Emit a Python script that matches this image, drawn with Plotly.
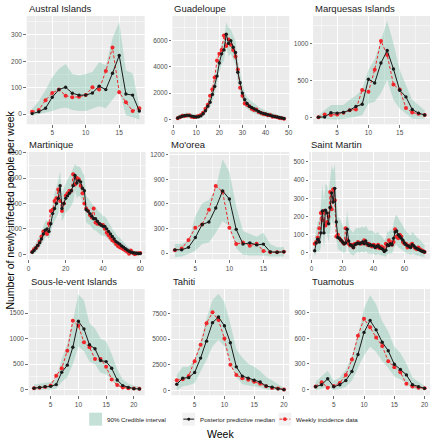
import plotly.graph_objects as go

# ---------------- data ----------------
austral_weeks = list(range(2, 19))
austral_median = [2, 9, 22, 64, 93, 102, 79, 72, 72, 80, 106, 93, 155, 222, 76, 72, 12]
austral_data = [9, 16, 53, 80, 93, 70, 64, 66, 72, 102, 93, 163, 252, 83, 45, 12, 22]
austral_hi = [20, 50, 90, 140, 172, 190, 152, 146, 152, 160, 197, 185, 287, 350, 165, 155, 30]
austral_lo = [-6, 0, 6, 12, 20, 25, 16, 12, 12, 20, 30, 22, 55, 88, -5, -12, -20]

guadeloupe_weeks = list(range(2, 49))
guadeloupe_median = [100, 180, 230, 280, 300, 280, 240, 190, 170, 190, 260, 420, 650, 1000, 1300, 1900,
                     2500, 3300, 4300, 5000, 5300, 6500, 5800, 6000, 5500, 5100, 3600, 2800, 2000, 1500,
                     1200, 1000, 900, 800, 700, 600, 500, 450, 400, 350, 300, 250, 200, 170, 130, 100, 60]
guadeloupe_data = [80, 150, 260, 250, 280, 300, 200, 160, 200, 250, 330, 500, 800, 1100, 1800, 2300,
                   3200, 4500, 5000, 5300, 6400, 5600, 6100, 5700, 5300, 4800, 3800, 2400, 1800, 1200,
                   1100, 1000, 800, 700, 750, 550, 500, 400, 380, 300, 320, 200, 220, 150, 100, 80, 40]
guadeloupe_hi = [300, 380, 450, 500, 520, 500, 450, 400, 380, 400, 500, 700, 1000, 1400, 1800, 2400,
                 3100, 4000, 5000, 5800, 6200, 7400, 7000, 6900, 6400, 6000, 4500, 3600, 2700, 2100,
                 1700, 1500, 1350, 1200, 1050, 950, 850, 750, 680, 600, 540, 480, 420, 380, 320, 280, 220]
guadeloupe_lo = [0, 20, 60, 90, 100, 90, 60, 30, 20, 30, 80, 200, 400, 700, 900, 1400,
                 1900, 2600, 3500, 4200, 4500, 5500, 4800, 5000, 4600, 4200, 2800, 2100, 1400, 1000,
                 800, 650, 550, 450, 400, 300, 250, 200, 170, 130, 100, 70, 40, 20, 0, -10, -30]

marquesas_weeks = list(range(2, 20))
marquesas_median = [5, 8, 65, 60, 70, 100, 150, 180, 520, 470, 740, 910, 660, 370, 280, 110, 60, 35]
marquesas_data = [5, 40, 35, 40, 65, 100, 110, 375, 350, 650, 1040, 850, 450, 380, 130, 70, 50, 35]
marquesas_hi = [30, 100, 170, 170, 170, 240, 300, 380, 650, 790, 1060, 1310, 1010, 650, 440, 240, 170, 100]
marquesas_lo = [-15, -20, -25, -25, -20, -10, 10, 30, 190, 215, 330, 510, 240, 120, 55, -15, -15, -15]

martinique_weeks = list(range(2, 61))
martinique_median = [80, 150, 250, 350, 450, 600, 800, 950, 1000, 900,
                     1200, 1600, 1800, 2000, 2200, 2700, 1800, 2000, 2200, 2300,
                     2400, 2500, 2700, 3100, 2800, 2900, 2850, 2600, 2500, 1750,
                     1700, 1600, 1500, 1400, 1400, 1300, 1200, 1150, 1100, 1100,
                     1000, 900, 800, 700, 600, 500, 450, 400, 330, 280,
                     220, 170, 120, 80, 60, 50, 40, 30, 30]
martinique_data = [100, 200, 250, 350, 500, 700, 900, 850, 800, 1200,
                   1700, 1750, 2100, 2200, 2550, 2100, 1700, 2000, 2300, 2400,
                   2500, 2500, 3150, 2750, 3000, 2950, 2700, 2400, 2000, 1800,
                   1700, 1550, 1450, 1800, 1250, 1200, 1200, 1150, 1150, 1000,
                   850, 750, 650, 550, 500, 400, 330, 280, 250, 200,
                   150, 100, 20, 150, 60, 0, 30, 40, 50]
martinique_hi = [250, 350, 450, 600, 700, 900, 1150, 1300, 1350, 1250,
                 1600, 2100, 2400, 2650, 2900, 3300, 2400, 2600, 2800, 2950,
                 3050, 3200, 3400, 3550, 3450, 3450, 3400, 3200, 3100, 2300,
                 2200, 2100, 2000, 1900, 1850, 1750, 1650, 1600, 1500, 1500,
                 1400, 1250, 1150, 1000, 900, 800, 700, 650, 550, 480,
                 400, 330, 260, 200, 170, 150, 130, 110, 100]
martinique_lo = [-50, 20, 80, 150, 250, 350, 500, 650, 700, 600,
                 850, 1150, 1300, 1450, 1600, 2100, 1300, 1450, 1650, 1700,
                 1800, 1900, 2050, 2500, 2200, 2300, 2250, 2000, 1900, 1250,
                 1200, 1150, 1050, 950, 950, 880, 800, 750, 720, 720,
                 650, 570, 480, 420, 340, 270, 230, 190, 140, 100,
                 60, 30, 0, -30, -40, -50, -60, -60, -60]

moorea_weeks = list(range(2, 19))
moorea_median = [40, 40, 70, 190, 350, 380, 550, 760, 660, 290, 110, 125, 100, 110, 15, 10, 15]
moorea_data = [35, 55, 160, 310, 350, 530, 820, 750, 310, 110, 130, 90, 115, 25, 10, 10, 15]
moorea_hi = [110, 115, 150, 450, 610, 650, 790, 1145, 990, 570, 270, 230, 200, 250, 110, 70, 75]
moorea_lo = [-50, -40, -10, 30, 110, 130, 250, 390, 330, 60, -20, -30, -30, -30, -40, -40, -40]

stmartin_weeks = list(range(2, 74))
stmartin_median = [12, 55, 75, 60, 110, 230, 110, 235, 220, 160,
                   250, 330, 280, 355, 170, 85, 80, 70, 60, 50,
                   55, 130, 65, 45, 40, 30, 45, 50, 55, 50,
                   55, 60, 50, 65, 50, 40, 45, 40, 40, 30,
                   35, 40, 30, 25, 20, 8, 15, 45, 40, 50,
                   45, 80, 115, 120, 100, 90, 80, 70, 55, 45,
                   40, 35, 30, 45, 40, 30, 25, 20, 15, 10,
                   8, 5]
stmartin_data = [50, 60, 85, 135, 220, 180, 230, 150, 170, 200,
                 335, 240, 350, 290, 90, 100, 80, 70, 60, 50,
                 135, 70, 50, 40, 45, 30, 50, 50, 60, 55,
                 50, 55, 70, 55, 45, 50, 40, 35, 45, 40,
                 30, 45, 25, 35, 30, 15, 50, 40, 70, 60,
                 45, 60, 130, 90, 80, 100, 90, 60, 50, 50,
                 30, 40, 40, 50, 35, 25, 20, 30, 20, 15,
                 10, 5]
stmartin_hi = [80, 130, 170, 180, 260, 380, 280, 380, 370, 330,
               420, 480, 450, 490, 320, 200, 190, 170, 150, 140,
               150, 230, 160, 130, 120, 110, 130, 135, 140, 135,
               140, 145, 135, 150, 135, 120, 125, 120, 120, 105,
               110, 115, 100, 95, 85, 70, 80, 120, 115, 130,
               125, 160, 200, 210, 190, 175, 165, 150, 130, 120,
               110, 105, 95, 115, 110, 95, 85, 80, 70, 60,
               55, 45]
stmartin_lo = [-20, 0, 10, 5, 30, 110, 30, 110, 100, 60,
               120, 190, 150, 210, 70, 20, 15, 10, 5, 0,
               5, 50, 10, -5, -10, -15, -5, 0, 5, 0,
               5, 5, 0, 10, 0, -5, -5, -5, -5, -10,
               -10, -5, -10, -15, -15, -20, -20, -5, -5, 0,
               -5, 20, 40, 45, 30, 25, 20, 15, 5, 0,
               -5, -5, -10, -5, -5, -10, -15, -15, -20, -20,
               -20, -25]

sous_weeks = list(range(2, 22))
sous_median = [30, 45, 60, 65, 100, 340, 480, 830, 1340, 1190, 880, 800, 570, 550, 420, 190, 80, 45, 20, 15]
sous_data = [30, 40, 55, 80, 275, 420, 760, 1350, 1250, 930, 830, 600, 600, 450, 200, 90, 45, 30, 25, 20]
sous_hi = [100, 120, 140, 150, 220, 600, 900, 1350, 1870, 1750, 1300, 1200, 1000, 950, 700, 400, 200, 120, 80, 60]
sous_lo = [-10, -5, 0, 0, 20, 150, 250, 500, 850, 750, 550, 500, 330, 300, 200, 80, 20, 0, -5, -10]

tahiti_weeks = list(range(2, 21))
tahiti_median = [600, 1200, 1250, 1750, 3150, 4800, 6600, 7150, 6300, 4650, 2300, 1400, 1200, 1000, 820, 430, 330, 160, 80]
tahiti_data = [1000, 1100, 1400, 2850, 4450, 6550, 7600, 6850, 5050, 2500, 1500, 1200, 1050, 850, 650, 400, 250, 200, 100]
tahiti_hi = [1500, 2300, 2300, 3000, 4800, 7000, 8800, 9400, 8600, 6500, 4000, 3200, 2600, 2300, 1900, 1300, 1000, 600, 300]
tahiti_lo = [0, 400, 500, 700, 1800, 3000, 4300, 4900, 4300, 2900, 1300, 600, 500, 400, 300, 100, 50, 0, 0]

tuamotus_weeks = list(range(2, 21))
tuamotus_median = [30, 55, 125, 30, 55, 105, 210, 410, 670, 810, 700, 555, 455, 295, 235, 170, 55, 30, 12]
tuamotus_data = [35, 85, 20, 40, 75, 170, 350, 630, 830, 730, 610, 510, 330, 260, 200, 65, 35, 20, 12]
tuamotus_hi = [90, 150, 220, 100, 140, 230, 400, 640, 950, 1110, 1000, 800, 680, 500, 430, 300, 140, 90, 40]
tuamotus_lo = [-10, 0, 40, -10, 0, 30, 100, 250, 400, 500, 440, 330, 250, 150, 120, 70, 0, -5, -10]

# tick labels
xt_short = [5, 10, 15]
xt_short20 = [5, 10, 15, 20]
xt_long = [0, 20, 40, 60]
xt_guad = [0, 10, 20, 30, 40, 50]

legend_labels = ["90% Credible interval", "Posterior predictive median", "Weekly incidence data"]

# ---------------- layout configuration ----------------
W, H = 436, 440
FONT = "Liberation Sans, Arial, sans-serif"
BAND = "rgba(102,189,160,0.32)"
RED = "#F0262A"
BLACK = "#1A1A1A"
TICKFONT = dict(family=FONT, size=6.5, color="#4D4D4D")

panels = [
    ("Austral Islands", austral_weeks, austral_median, austral_data, austral_lo, austral_hi,
     (26, 145, 13, 122), [1.2, 18.8], [-38, 372], xt_short, [2.5, 7.5, 12.5, 17.5], [0, 100, 200, 300], [50, 150, 250, 350]),
    ("Guadeloupe", guadeloupe_weeks, guadeloupe_median, guadeloupe_data, guadeloupe_lo, guadeloupe_hi,
     (173, 291, 13, 122), [-0.3, 50.3], [-375, 7900], xt_guad, [5, 15, 25, 35, 45], [0, 2000, 4000, 6000], [1000, 3000, 5000, 7000]),
    ("Marquesas Islands", marquesas_weeks, marquesas_median, marquesas_data, marquesas_lo, marquesas_hi,
     (315, 433, 13, 122), [1.15, 19.85], [-90, 1380], xt_short, [2.5, 7.5, 12.5, 17.5], [0, 500, 1000], [250, 750, 1250]),
    ("Martinique", martinique_weeks, martinique_median, martinique_data, martinique_lo, martinique_hi,
     (26, 146, 150, 258), [-0.9, 62.9], [-195, 4025], xt_long, [10, 30, 50], [0, 1000, 2000, 3000, 4000], [500, 1500, 2500, 3500]),
    ("Mo'orea", moorea_weeks, moorea_median, moorea_data, moorea_lo, moorea_hi,
     (170, 291, 150, 258), [1.2, 18.8], [-75, 1235], xt_short, [2.5, 7.5, 12.5, 17.5], [0, 300, 600, 900, 1200], [150, 450, 750, 1050]),
    ("Saint Martin", stmartin_weeks, stmartin_median, stmartin_data, stmartin_lo, stmartin_hi,
     (311, 433, 150, 258), [-1.55, 76.55], [-35, 555], xt_long, [10, 30, 50, 70], [0, 100, 200, 300, 400, 500], [50, 150, 250, 350, 450]),
    ("Sous-le-vent Islands", sous_weeks, sous_median, sous_data, sous_lo, sous_hi,
     (28, 145, 288, 395), [1.05, 21.95], [-110, 1970], xt_short20, [2.5, 7.5, 12.5, 17.5], [0, 500, 1000, 1500], [250, 750, 1250, 1750]),
    ("Tahiti", tahiti_weeks, tahiti_median, tahiti_data, tahiti_lo, tahiti_hi,
     (172, 291, 288, 395), [1.1, 20.9], [-470, 9870], xt_short20, [2.5, 7.5, 12.5, 17.5], [0, 2500, 5000, 7500], [1250, 3750, 6250, 8750]),
    ("Tuamotus", tuamotus_weeks, tuamotus_median, tuamotus_data, tuamotus_lo, tuamotus_hi,
     (312, 433, 288, 395), [1.1, 20.9], [-70, 1180], xt_short20, [2.5, 7.5, 12.5, 17.5], [0, 300, 600, 900], [150, 450, 750, 1050]),
]

fig = go.Figure()
annotations = []
shapes = []
layout_axes = {}


def px(x):
    return x / W


def py(y):
    return 1 - y / H


for i, (title, wk, med, dat, lo, hi, box, xr, yr, xt, xm, yt, ym) in enumerate(panels):
    n = i + 1
    xa = "x" if n == 1 else f"x{n}"
    ya = "y" if n == 1 else f"y{n}"
    fig.add_trace(go.Scatter(
        x=list(wk) + list(wk)[::-1], y=list(hi) + list(lo)[::-1],
        fill="toself", fillcolor=BAND, line=dict(width=0), mode="lines",
        hoverinfo="skip", name=legend_labels[0], showlegend=False, xaxis=xa, yaxis=ya))
    fig.add_trace(go.Scatter(
        x=wk, y=dat, mode="lines+markers",
        line=dict(color=RED, width=1, dash="3px,2px"),
        marker=dict(color=RED, size=4),
        name=legend_labels[2], showlegend=False, xaxis=xa, yaxis=ya))
    fig.add_trace(go.Scatter(
        x=wk, y=med, mode="lines+markers",
        line=dict(color=BLACK, width=1),
        marker=dict(color=BLACK, size=3.4),
        name=legend_labels[1], showlegend=False, xaxis=xa, yaxis=ya))

    x0, x1, yt0, yb = box
    dom_x = [px(x0), px(x1)]
    dom_y = [py(yb), py(yt0)]
    common = dict(showline=False, zeroline=False, showgrid=True, gridcolor="white", gridwidth=1,
                  ticks="outside", ticklen=2.5, tickwidth=0.7, tickcolor="#333333",
                  tickfont=TICKFONT, fixedrange=True)
    layout_axes["xaxis" if n == 1 else f"xaxis{n}"] = dict(
        domain=dom_x, range=xr, anchor=ya, tickvals=xt, ticktext=[str(v) for v in xt],
        minor=dict(tickvals=xm, showgrid=True, gridcolor="white", gridwidth=0.5, ticks=""),
        **common)
    layout_axes["yaxis" if n == 1 else f"yaxis{n}"] = dict(
        domain=dom_y, range=yr, anchor=xa, tickvals=yt, ticktext=[str(v) for v in yt],
        minor=dict(tickvals=ym, showgrid=True, gridcolor="white", gridwidth=0.5, ticks=""),
        **common)
    shapes.append(dict(type="rect", xref="paper", yref="paper", x0=dom_x[0], x1=dom_x[1],
                       y0=dom_y[0], y1=dom_y[1], fillcolor="#EBEBEB", line=dict(width=0), layer="below"))
    annotations.append(dict(text=title, x=dom_x[0], y=dom_y[1], xref="paper", yref="paper",
                            xanchor="left", yanchor="bottom", yshift=0, showarrow=False,
                            font=dict(family=FONT, size=9.5, color=BLACK)))

# axis titles
annotations.append(dict(text="Number of newly infected people per week", x=px(1), y=py(208),
                        xref="paper", yref="paper", textangle=-90, showarrow=False,
                        xanchor="left", yanchor="middle",
                        font=dict(family=FONT, size=10.5, color="#000000")))
annotations.append(dict(text="Week", x=px(222), y=py(434), xref="paper", yref="paper",
                        showarrow=False, xanchor="center", yanchor="middle",
                        font=dict(family=FONT, size=10.5, color="#000000")))

# legend (drawn as keys + text below the panels)
LY = 419
key_x = [89, 183, 280]
for kx, label in zip(key_x, legend_labels):
    shapes.append(dict(type="rect", xref="paper", yref="paper", x0=px(kx), x1=px(kx + 13),
                       y0=py(LY + 6.5), y1=py(LY - 6.5), fillcolor="#F2F2F2", line=dict(width=0)))
    annotations.append(dict(text=label, x=px(kx + 16), y=py(LY), xref="paper", yref="paper",
                            showarrow=False, xanchor="left", yanchor="middle",
                            font=dict(family=FONT, size=6.2, color=BLACK)))
# band key
shapes.append(dict(type="rect", xref="paper", yref="paper", x0=px(key_x[0]), x1=px(key_x[0] + 13),
                   y0=py(LY + 6.5), y1=py(LY - 6.5), fillcolor=BAND, line=dict(width=0)))
# median key
shapes.append(dict(type="line", xref="paper", yref="paper", x0=px(key_x[1] + 1), x1=px(key_x[1] + 12),
                   y0=py(LY), y1=py(LY), line=dict(color=BLACK, width=1)))
shapes.append(dict(type="circle", xref="paper", yref="paper", x0=px(key_x[1] + 5), x1=px(key_x[1] + 8),
                   y0=py(LY + 1.5), y1=py(LY - 1.5), fillcolor=BLACK, line=dict(width=0)))
# data key
shapes.append(dict(type="line", xref="paper", yref="paper", x0=px(key_x[2] + 1), x1=px(key_x[2] + 12),
                   y0=py(LY), y1=py(LY), line=dict(color=RED, width=1, dash="3px,2px")))
shapes.append(dict(type="circle", xref="paper", yref="paper", x0=px(key_x[2] + 4.7), x1=px(key_x[2] + 8.3),
                   y0=py(LY + 1.8), y1=py(LY - 1.8), fillcolor=RED, line=dict(width=0)))

fig.update_layout(
    width=W, height=H, autosize=False,
    margin=dict(l=0, r=0, t=0, b=0),
    paper_bgcolor="white", plot_bgcolor="rgba(0,0,0,0)",
    annotations=annotations, shapes=shapes,
    showlegend=False, hovermode=False,
    **layout_axes,
)

fig.write_html("out.html",
               config={"displayModeBar": False, "staticPlot": True},
               post_script="document.body.style.margin='0';document.body.style.padding='0';"
                           "document.documentElement.style.overflow='hidden';")
